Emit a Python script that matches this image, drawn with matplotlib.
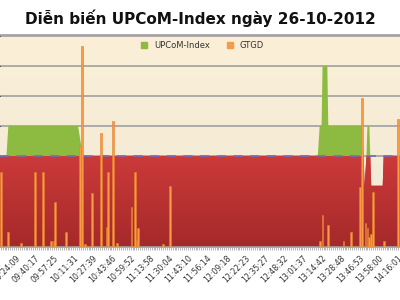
import numpy as np
import matplotlib
matplotlib.use("Agg")
import matplotlib.pyplot as plt
from matplotlib.colors import LinearSegmentedColormap
from matplotlib.lines import Line2D

TITLE = "Diễn biến UPCoM-Index ngày 26-10-2012"

# one tick label every 20 trade samples
TIME_LABELS = ["09:24:09", "09:40:17", "09:57:25", "10:11:31", "10:27:39",
               "10:43:46", "10:59:52", "11:13:58", "11:30:04", "11:43:10",
               "11:56:14", "12:09:18", "12:22:23", "12:35:27", "12:48:32",
               "13:01:37", "13:14:42", "13:28:48", "13:46:53", "13:58:00",
               "14:16:01"]

REF_LEVEL = 37.37  # previous close (dashed line)

# UPCoM-Index, breakpoints (sample no., value)
IDX_X = [-18, -10, -8, 65, 70, 316, 318, 320, 321, 326, 327, 362, 364, 365,
         367, 368, 370, 371, 372, 384, 385, 404]
IDX_Y = [37.37, 37.37, 37.38, 37.38, 37.37, 37.37, 37.38, 37.38, 37.40,
         37.40, 37.38, 37.38, 37.37, 37.36, 37.37, 37.38, 37.38, 37.37,
         37.36, 37.36, 37.37, 37.37]

# GTGD per sample (trade value)
VOL_X = [-16, -8, 5, 15, 20, 28, 37, 40, 41, 52, 67, 69, 72, 80, 89, 95, 96,
         102, 106, 121, 125, 127, 128, 154, 161, 318, 321, 327, 343, 351,
         360, 362, 366, 368, 370, 372, 374, 385, 400]
VOL_Y = [248, 50, 13, 4, 248, 248, 20, 20, 149, 50, 333, 663, 10, 178, 376,
         66, 248, 416, 13, 132, 248, 23, 63, 10, 201, 20, 106, 73, 20, 50,
         198, 492, 79, 63, 33, 43, 182, 20, 422]

_CREAM_TOP, _CREAM_LOW = "#fbefd6", "#f1ead8"
_RED_TOP, _RED_LOW = "#cc3a3a", "#a5292a"
_GREEN, _ORANGE, _ORANGE_EDGE = "#8dba41", "#f79b45", "#e47d2b"
_REF, _GRID, _TEXT = "#7a6ab6", "#a6a6a6", "#333333"

fig = plt.figure(figsize=(4, 3), dpi=100)
ax = fig.add_axes([0, 53 / 300, 1, 212 / 300])
x0, x1 = -16.75, 402.1
y0, y1 = REF_LEVEL - 0.0303, REF_LEVEL + 0.0403

vert = np.linspace(0, 1, 256).reshape(-1, 1)
ax.imshow(vert, extent=[x0, x1, y0, y1], aspect="auto", origin="upper",
          cmap=LinearSegmentedColormap.from_list("bg", [_CREAM_TOP, _CREAM_LOW]),
          zorder=0)

ix = np.array(IDX_X, dtype=float)
iy = np.array(IDX_Y, dtype=float)
low = np.minimum(iy, REF_LEVEL)
red = ax.fill_between(ix, y0 - 0.01, low, color=_RED_TOP, lw=0, zorder=2)
grad = ax.imshow(vert, extent=[x0, x1, y0, REF_LEVEL], aspect="auto",
                 origin="upper", zorder=2.1,
                 cmap=LinearSegmentedColormap.from_list("red", [_RED_TOP, _RED_LOW]))
grad.set_clip_path(red.get_paths()[0], ax.transData)
ax.fill_between(ix, REF_LEVEL, iy, where=iy > REF_LEVEL, interpolate=True,
                color=_GREEN, lw=0, zorder=2.2)
ax.axhline(REF_LEVEL, color=_REF, lw=1.2, dashes=(5.6, 4.4), zorder=3)

ax.set_xlim(x0, x1)
ax.set_ylim(y0, y1)
ax.set_yticks(np.arange(37.34, 37.415, 0.01))
ax.grid(axis="y", color=_GRID, lw=1.3)
ax.set_axisbelow(True)
ax.tick_params(axis="y", left=False, labelleft=False)
ax.set_xticks(np.arange(0, 401, 20))
ax.set_xticklabels(TIME_LABELS, rotation=45, ha="right",
                   rotation_mode="anchor", fontsize=5.6, color=_TEXT)
ax.set_xticks(np.arange(-16, 403, 2), minor=True)
ax.tick_params(axis="x", which="both", length=2.5, width=0.6,
               color="#a8a8a8", pad=2.5)
for side, sp in ax.spines.items():
    sp.set_visible(side in ("top", "bottom"))
    sp.set_color("#a0a0a0")
    sp.set_linewidth(1.2)

ax2 = ax.twinx()
ax2.bar(VOL_X, VOL_Y, width=1.9, color=_ORANGE, edgecolor=_ORANGE_EDGE,
        lw=0.4, zorder=4)
ax2.set_ylim(0, 700)
ax2.set_xlim(x0, x1)
ax2.axis("off")

handles = [Line2D([], [], ls="none", marker="s", ms=4.5, color=_GREEN),
           Line2D([], [], ls="none", marker="s", ms=4.5, color=_ORANGE)]
ax2.legend(handles, ["UPCoM-Index", "GTGD"], loc="upper center",
           bbox_to_anchor=(0.5, 1.0), ncol=2, frameon=False, fontsize=6,
           handletextpad=0.2, columnspacing=1.4, borderaxespad=0.3,
           labelcolor=_TEXT)

fig.text(0.5, 1 - 18 / 300, TITLE, ha="center", va="center", fontsize=11,
         fontweight="bold", color="#111111")

fig.savefig("out.png", dpi=100)
